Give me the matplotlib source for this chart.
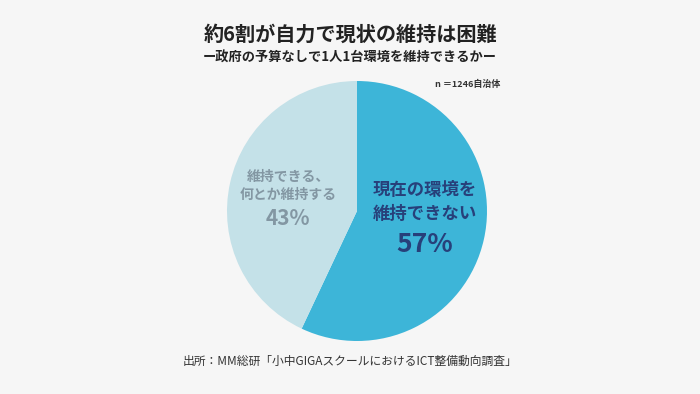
import matplotlib.pyplot as plt

plt.rcParams['font.family'] = ['Noto Sans CJK JP', 'DejaVu Sans']

labels = ["現在の環境を\n維持できない", "維持できる、\n何とか維持する"]
values = [57, 43]
colors = ["#3db5d8", "#c4e1e8"]
text_colors = ["#27407a", "#8397a3"]

fig = plt.figure(figsize=(7, 3.94), dpi=100)
fig.patch.set_facecolor("#f6f6f6")

# pie axes: centre (357, 211), radius 130 px
ax = fig.add_axes([(357 - 130) / 700, 1 - (211 + 130) / 394, 260 / 700, 260 / 394])
ax.pie(values, colors=colors, startangle=90, counterclock=False,
       wedgeprops=dict(linewidth=0))
ax.set_aspect("equal")
ax.set_xlim(-1, 1)
ax.set_ylim(-1, 1)

# labels inside slices
ax.text(0.52, 0.07, labels[0], ha="center", va="center", fontsize=12.5,
        color=text_colors[0], fontweight="bold", linespacing=1.4)
ax.text(0.52, -0.26, f"{values[0]}%", ha="center", va="center", fontsize=19,
        color=text_colors[0], fontweight="bold")
ax.text(-0.53, 0.19, labels[1], ha="center", va="center", fontsize=10,
        color=text_colors[1], fontweight="bold", linespacing=1.35)
ax.text(-0.53, -0.055, f"{values[1]}%", ha="center", va="center", fontsize=15,
        color=text_colors[1], fontweight="bold")

fig.text(0.5, 1 - 34 / 394, "約6割が自力で現状の維持は困難", ha="center", va="center",
         fontsize=14.5, fontweight="bold", color="#222222")
fig.text(0.5, 1 - 58 / 394, "ー政府の予算なしで1人1台環境を維持できるかー", ha="center",
         va="center", fontsize=9.5, fontweight="bold", color="#222222")
fig.text(500 / 700, 1 - 84 / 394, "n ＝1246自治体", ha="right", va="center",
         fontsize=6.5, fontweight="bold", color="#333333")
fig.text(0.5, 1 - 361 / 394, "出所：MM総研「小中GIGAスクールにおけるICT整備動向調査」",
         ha="center", va="center", fontsize=8.5, color="#333333")

fig.savefig("out.png", dpi=100, facecolor=fig.get_facecolor())
